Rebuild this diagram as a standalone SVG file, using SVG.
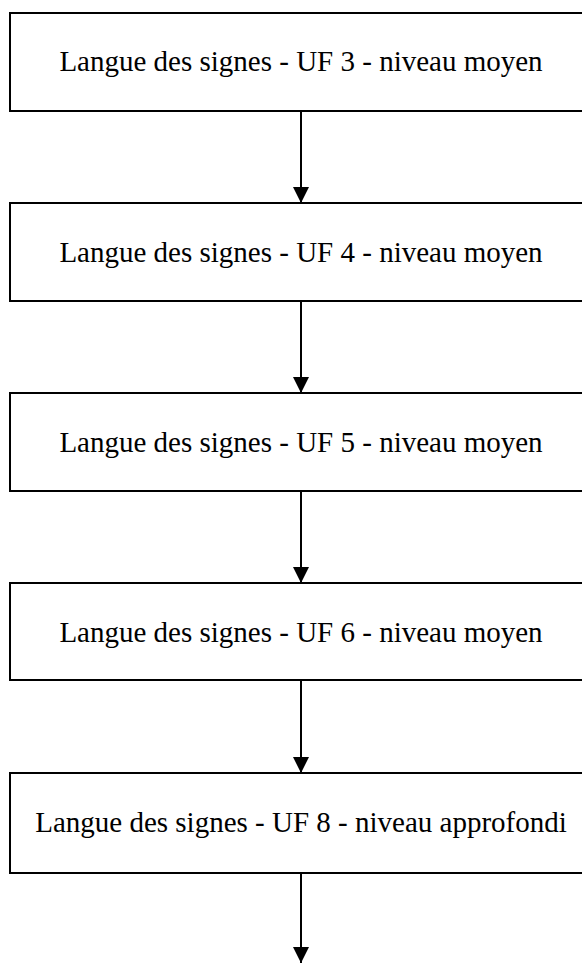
<svg xmlns="http://www.w3.org/2000/svg" width="582" height="963" viewBox="0 0 582 963">
<style>
.box{fill:#fff;stroke:#000;stroke-width:2}
.lbl{font-family:"Liberation Serif","Times New Roman",serif;font-size:29px;fill:#000;text-anchor:middle}
.con{stroke:#000;stroke-width:2;fill:none}
</style>
<defs>
<marker id="ah" markerWidth="16" markerHeight="16" refX="16" refY="8" orient="auto" markerUnits="userSpaceOnUse">
<path d="M0,0 L16,8 L0,16 Z" fill="#000"/>
</marker>
</defs>
<rect width="582" height="963" fill="#fff"/>
<g id="n1"><rect class="box" x="10" y="13" width="590" height="98"/><text class="lbl" x="301" y="71">Langue des signes - UF 3 - niveau moyen</text></g>
<g id="n2"><rect class="box" x="10" y="203" width="590" height="98"/><text class="lbl" x="301" y="262">Langue des signes - UF 4 - niveau moyen</text></g>
<g id="n3"><rect class="box" x="10" y="393" width="590" height="98"/><text class="lbl" x="301" y="452">Langue des signes - UF 5 - niveau moyen</text></g>
<g id="n4"><rect class="box" x="10" y="583" width="590" height="97"/><text class="lbl" x="301" y="642">Langue des signes - UF 6 - niveau moyen</text></g>
<g id="n5"><rect class="box" x="10" y="773" width="590" height="100"/><text class="lbl" x="301" y="832">Langue des signes - UF 8 - niveau approfondi</text></g>
<g id="connectors">
<line class="con" x1="301" y1="112" x2="301" y2="203" marker-end="url(#ah)"/>
<line class="con" x1="301" y1="302" x2="301" y2="393" marker-end="url(#ah)"/>
<line class="con" x1="301" y1="492" x2="301" y2="583" marker-end="url(#ah)"/>
<line class="con" x1="301" y1="681" x2="301" y2="773" marker-end="url(#ah)"/>
<line class="con" x1="301" y1="874" x2="301" y2="963" marker-end="url(#ah)"/>
</g>
</svg>
